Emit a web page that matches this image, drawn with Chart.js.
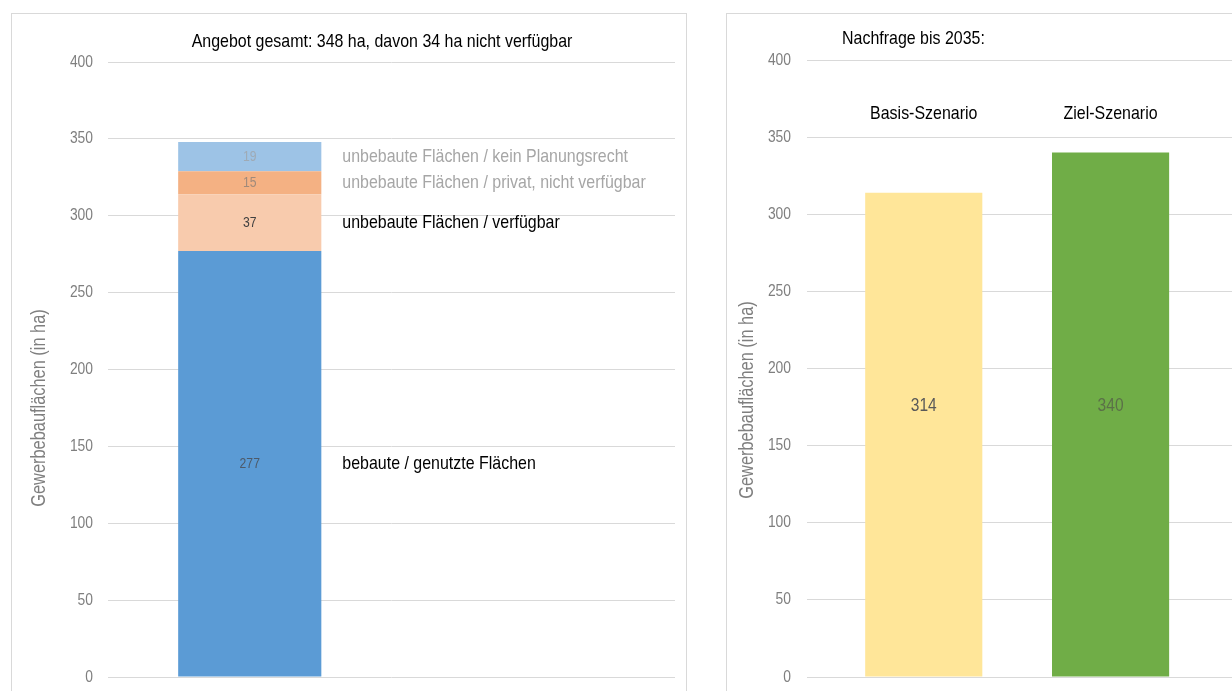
<!DOCTYPE html>
<html>
<head>
<meta charset="utf-8">
<script src="https://cdn.jsdelivr.net/npm/chart.js@4.4.0/dist/chart.umd.min.js"></script>
<style>
  body { margin: 0; background: #fff; width: 1232px; height: 691px; overflow: hidden; position: relative; }
  .rahmen { position: absolute; border: 1px solid #D9D9D9; box-sizing: border-box; }
  canvas { position: absolute; top: 0; }
</style>
</head>
<body>
<div class="rahmen" style="left:11px; top:13px; width:676px; height:700px;"></div>
<div class="rahmen" style="left:726px; top:13px; width:600px; height:700px;"></div>
<canvas id="angebot" width="700" height="691" style="left:0"></canvas>
<canvas id="nachfrage" width="532" height="691" style="left:700px"></canvas>
<script>
// Angebot (gestapelt)
const flaechenLabels = ['bebaute / genutzte Flächen', 'unbebaute Flächen / verfügbar', 'unbebaute Flächen / privat, nicht verfügbar', 'unbebaute Flächen / kein Planungsrecht'];
const flaechenWerte = [277, 37, 15, 19];
const flaechenFarben = ['#5B9BD5', '#F8CBAD', '#F4B183', '#9DC3E6'];
const wertFarben = ['#4D5A69', '#404040', '#A08A7A', '#9FAAB5'];
const textFarben = ['#000000', '#000000', '#A6A6A6', '#A6A6A6'];

// Nachfrage bis 2035
const szenarien = ['Basis-Szenario', 'Ziel-Szenario'];
const nachfrageWerte = [314, 340];
const nachfrageFarben = ['#FFE699', '#70AD47'];
const nachfrageTextFarben = ['#595959', '#5B7048'];

const yTicks = [0, 50, 100, 150, 200, 250, 300, 350, 400];
const titelLinks = 'Angebot gesamt: 348 ha, davon 34 ha nicht verfügbar';
const titelRechts = 'Nachfrage bis 2035:';
const achsenTitel = 'Gewerbebauflächen (in ha)';

const schrift = "'Liberation Sans', Arial, sans-serif";
Chart.defaults.font.family = schrift;

// the original uses a narrow font, so squeeze the text horizontally
const SCHMAL = 0.84;
function schmal(ctx, text, x, y, size, color, align, winkel) {
    ctx.save();
    ctx.translate(x, y);
    if (winkel) ctx.rotate(winkel);
    ctx.scale(SCHMAL, 1);
    ctx.font = size + 'px ' + schrift;
    ctx.fillStyle = color;
    ctx.textAlign = align;
    ctx.textBaseline = 'middle';
    ctx.fillText(text, 0, 0);
    ctx.restore();
}

function yAchse(breite) {
    return {
        min: 0,
        max: 400,
        stacked: true,
        afterBuildTicks: s => { s.ticks = yTicks.map(v => ({value: v})); },
        afterFit: s => { s.width = breite; },
        ticks: { display: false },
        grid: { color: '#D9D9D9', lineWidth: 1, drawTicks: false },
        border: { display: false }
    };
}

function achseBeschriften(chart, abstand, titelX, titelY) {
    const ctx = chart.ctx;
    const y = chart.scales.y;
    yTicks.forEach(v => {
        schmal(ctx, String(v), chart.chartArea.left - abstand, y.getPixelForValue(v), 16.5, '#7F7F7F', 'right');
    });
    schmal(ctx, achsenTitel, titelX, titelY, 19.5, '#7F7F7F', 'center', -Math.PI / 2);
}

const angebotText = {
    id: 'angebotText',
    afterDatasetsDraw(chart) {
        const ctx = chart.ctx;
        chart.data.datasets.forEach((ds, i) => {
            const bar = chart.getDatasetMeta(i).data[0];
            const mitte = (bar.y + bar.base) / 2;
            schmal(ctx, String(flaechenWerte[i]), bar.x, mitte, 14.5, wertFarben[i], 'center');
            schmal(ctx, flaechenLabels[i], bar.x + bar.width / 2 + 21, mitte, 19, textFarben[i], 'left');
        });
        schmal(ctx, titelLinks, 382, 42, 19, '#000000', 'center');
        achseBeschriften(chart, 15, 40, 408);
    }
};

new Chart(document.getElementById('angebot'), {
    type: 'bar',
    data: {
        labels: ['Angebot', ''],
        datasets: flaechenWerte.map((v, i) => ({
            label: flaechenLabels[i],
            data: [v, null],
            backgroundColor: flaechenFarben[i],
            borderWidth: 0,
            categoryPercentage: 1,
            barPercentage: 0.505
        }))
    },
    options: {
        responsive: false,
        animation: false,
        layout: { padding: { left: 0, right: 25, top: 62, bottom: 14 } },
        plugins: { legend: { display: false }, tooltip: { enabled: false } },
        scales: {
            x: { stacked: true, display: false },
            y: yAchse(108)
        }
    },
    plugins: [angebotText]
});

const nachfrageText = {
    id: 'nachfrageText',
    afterDatasetsDraw(chart) {
        const ctx = chart.ctx;
        const y = chart.scales.y;
        chart.getDatasetMeta(0).data.forEach((bar, i) => {
            schmal(ctx, szenarien[i], bar.x, y.getPixelForValue(365), 19, '#000000', 'center');
            schmal(ctx, String(nachfrageWerte[i]), bar.x, y.getPixelForValue(176), 18.5, nachfrageTextFarben[i], 'center');
        });
        schmal(ctx, titelRechts, 142, 39, 19, '#000000', 'left');
        achseBeschriften(chart, 16, 48, 400);
    }
};

new Chart(document.getElementById('nachfrage'), {
    type: 'bar',
    data: {
        datasets: [{
            label: 'Nachfrage',
            data: nachfrageWerte.map((v, i) => ({x: i, y: v})),
            backgroundColor: nachfrageFarben,
            borderWidth: 0,
            categoryPercentage: 1,
            barPercentage: 0.627
        }]
    },
    options: {
        responsive: false,
        animation: false,
        layout: { padding: { left: 0, right: 0, top: 60, bottom: 14 } },
        plugins: { legend: { display: false }, tooltip: { enabled: false } },
        scales: {
            x: {
                type: 'linear',
                display: false,
                offset: false,
                afterBuildTicks: s => {
                    s.ticks = [{value: 0}, {value: 1}];
                    s.min = -0.625;
                    s.max = 1.65;
                }
            },
            y: yAchse(107)
        }
    },
    plugins: [nachfrageText]
});
</script>
</body>
</html>
